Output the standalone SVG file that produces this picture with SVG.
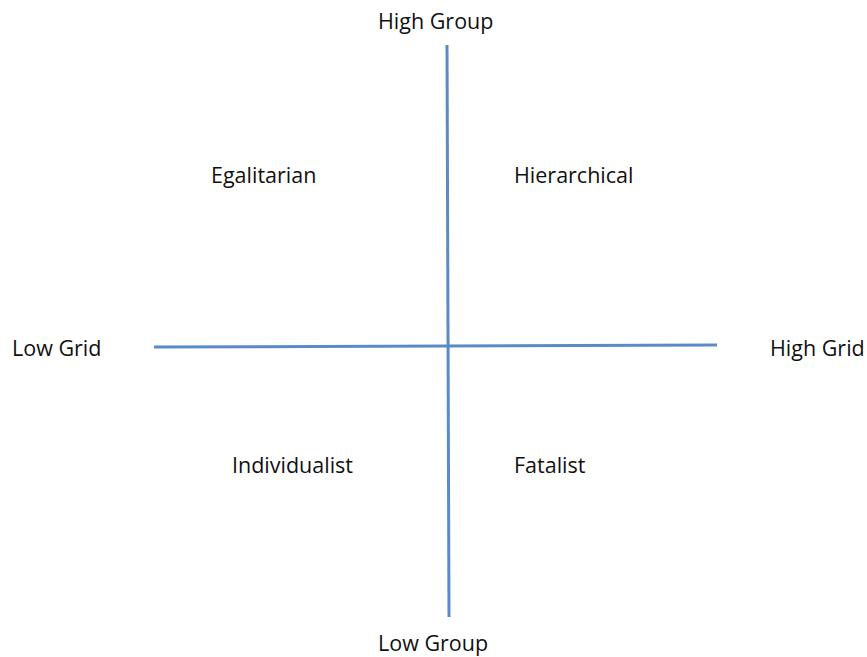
<svg xmlns="http://www.w3.org/2000/svg" width="867" height="657" viewBox="0 0 867 657">
  <style>
    .lbl { font-family: "Open Sans", "Liberation Sans", sans-serif; font-size: 21.5px; fill: #111; }
    .axis { stroke: #5b8bc6; stroke-width: 3; fill: none; }
  </style>
  <rect width="867" height="657" fill="#fff"/>
  <g id="connectors">
    <line class="axis" x1="447" y1="45" x2="449" y2="617"/>
    <line class="axis" x1="154" y1="347" x2="717" y2="345"/>
  </g>
  <g id="high-group"><text class="lbl" x="378" y="29">High Group</text></g>
  <g id="low-group"><text class="lbl" x="378" y="651">Low Group</text></g>
  <g id="low-grid"><text class="lbl" x="12" y="356">Low Grid</text></g>
  <g id="high-grid"><text class="lbl" x="770" y="356">High Grid</text></g>
  <g id="egalitarian"><text class="lbl" x="211" y="183">Egalitarian</text></g>
  <g id="hierarchical"><text class="lbl" x="514" y="183">Hierarchical</text></g>
  <g id="individualist"><text class="lbl" x="232" y="473">Individualist</text></g>
  <g id="fatalist"><text class="lbl" x="514" y="473">Fatalist</text></g>
</svg>
